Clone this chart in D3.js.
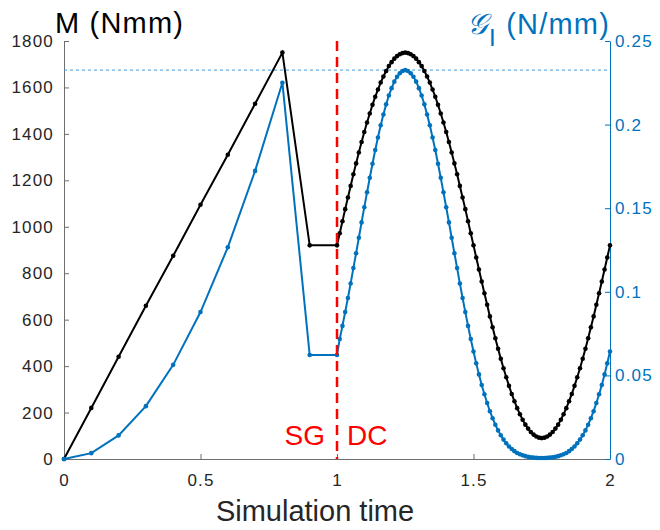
<!DOCTYPE html>
<html>
<head>
<meta charset="utf-8">
<script src="https://cdn.jsdelivr.net/npm/d3@7"></script>
<style>
  body { margin: 0; background: #fff; }
  text { font-family: "Liberation Sans", Arial, sans-serif; }
</style>
</head>
<body>
<div id="chart"></div>
<script>
// SG phase, coarse steps
var sgTime = [0, 0.1, 0.2, 0.3, 0.4, 0.5, 0.6, 0.7, 0.8, 0.9, 1.0];
var sgMoment = [0, 220, 440, 660, 875, 1095, 1310, 1530, 1750, 920, 920];
var sgG = [0, 0.0035, 0.0141, 0.0316, 0.0563, 0.0879, 0.1266, 0.1723, 0.225, 0.0622, 0.0622];

// DC phase, t = 1.01 ... 2.00
var dcMoment = [
  972, 1024, 1076, 1126, 1176, 1226, 1273, 1320, 1365, 1408,
  1449, 1488, 1525, 1560, 1591, 1621, 1647, 1671, 1692, 1709,
  1724, 1735, 1743, 1748, 1750, 1748, 1743, 1735, 1724, 1709,
  1692, 1671, 1647, 1621, 1591, 1560, 1525, 1488, 1449, 1408,
  1365, 1320, 1273, 1226, 1176, 1126, 1076, 1024, 972, 920,
  868, 816, 764, 714, 664, 614, 567, 520, 475, 432,
  391, 352, 315, 280, 249, 219, 193, 169, 148, 131,
  116, 105, 97, 92, 90, 92, 97, 105, 116, 131,
  148, 169, 193, 219, 249, 280, 315, 352, 391, 432,
  475, 520, 567, 614, 664, 714, 764, 816, 868, 920
];
var dcG = [
  0.0718, 0.0796, 0.0879, 0.0963, 0.1050, 0.1142, 0.1231, 0.1323, 0.1415, 0.1506,
  0.1595, 0.1682, 0.1766, 0.1848, 0.1923, 0.1996, 0.2060, 0.2121, 0.2174, 0.2218,
  0.2257, 0.2286, 0.2307, 0.2321, 0.2326, 0.2321, 0.2307, 0.2286, 0.2257, 0.2218,
  0.2174, 0.2121, 0.2060, 0.1996, 0.1923, 0.1848, 0.1766, 0.1682, 0.1595, 0.1506,
  0.1415, 0.1323, 0.1231, 0.1142, 0.1050, 0.0963, 0.0879, 0.0796, 0.0718, 0.0643,
  0.0572, 0.0506, 0.0443, 0.0387, 0.0335, 0.0286, 0.0244, 0.0205, 0.0171, 0.0142,
  0.0116, 0.0094, 0.0075, 0.0060, 0.0047, 0.0036, 0.0028, 0.0022, 0.0017, 0.0013,
  0.0010, 0.0008, 0.0007, 0.0006, 0.0006, 0.0006, 0.0007, 0.0008, 0.0010, 0.0013,
  0.0017, 0.0022, 0.0028, 0.0036, 0.0047, 0.0060, 0.0075, 0.0094, 0.0116, 0.0142,
  0.0171, 0.0205, 0.0244, 0.0286, 0.0335, 0.0387, 0.0443, 0.0506, 0.0572, 0.0643
];
var gCritical = 0.2326;
var switchTime = 1;

var xTicks = [0, 0.5, 1, 1.5, 2];
var mTicks = [0, 200, 400, 600, 800, 1000, 1200, 1400, 1600, 1800];
var gTicks = [0, 0.05, 0.1, 0.15, 0.2, 0.25];

var W = 660, H = 530;
var plotL = 64, plotR = 610, plotT = 41, plotB = 459;
var blue = '#0072BD', dark = '#262626';

// DC sampling grid (time axis only)
var dcTime = d3.range(1, 101).map(function (k) { return 1 + k / 100; });

var moment = sgTime.map(function (t, i) { return [t, sgMoment[i]]; })
  .concat(dcTime.map(function (t, i) { return [t, dcMoment[i]]; }));
var energy = sgTime.map(function (t, i) { return [t, sgG[i]]; })
  .concat(dcTime.map(function (t, i) { return [t, dcG[i]]; }));

var x = d3.scaleLinear().domain([0, 2]).range([plotL, plotR]);
var yM = d3.scaleLinear().domain([0, 1800]).range([plotB, plotT]);
var yG = d3.scaleLinear().domain([0, 0.25]).range([plotB, plotT]);

var svg = d3.select('#chart').append('svg')
  .attr('width', W)
  .attr('height', H);

// axes (MATLAB style, ticks pointing in)
var xAxis = svg.append('g')
  .attr('transform', 'translate(0,' + plotB + ')')
  .call(d3.axisBottom(x).tickValues(xTicks).tickFormat(function (d) { return String(d); })
    .tickSizeInner(-5).tickSizeOuter(0).tickPadding(15));

var mAxis = svg.append('g')
  .attr('transform', 'translate(' + plotL + ',0)')
  .call(d3.axisLeft(yM).tickValues(mTicks).tickFormat(function (d) { return String(d); })
    .tickSizeInner(-5).tickSizeOuter(0).tickPadding(10));

var gAxis = svg.append('g')
  .attr('transform', 'translate(' + plotR + ',0)')
  .call(d3.axisRight(yG).tickValues(gTicks).tickFormat(function (d) { return String(d); })
    .tickSizeInner(-5).tickSizeOuter(0).tickPadding(5));

[xAxis, mAxis, gAxis].forEach(function (a) {
  a.attr('font-size', null).attr('font-family', null)
    .style('font-size', '17px').style('letter-spacing', '1.2px');
});
[xAxis, mAxis].forEach(function (a) {
  a.select('.domain').attr('stroke', '#6e6e6e');
  a.selectAll('.tick line').attr('stroke', '#6e6e6e');
  a.selectAll('.tick text').attr('fill', dark);
});
gAxis.select('.domain').attr('stroke', blue);
gAxis.selectAll('.tick line').attr('stroke', blue);
gAxis.selectAll('.tick text').attr('fill', blue);

// critical energy release rate
svg.append('line')
  .attr('x1', x(0)).attr('x2', x(2))
  .attr('y1', yG(gCritical)).attr('y2', yG(gCritical))
  .attr('stroke', '#3d9be0')
  .attr('stroke-width', 1)
  .attr('stroke-dasharray', '3,3');

var lineM = d3.line().x(function (d) { return x(d[0]); }).y(function (d) { return yM(d[1]); });
var lineG = d3.line().x(function (d) { return x(d[0]); }).y(function (d) { return yG(d[1]); });

svg.append('path').datum(moment)
  .attr('d', lineM).attr('fill', 'none').attr('stroke', '#000').attr('stroke-width', 2);
svg.append('g').selectAll('circle').data(moment).enter().append('circle')
  .attr('cx', function (d) { return x(d[0]); })
  .attr('cy', function (d) { return yM(d[1]); })
  .attr('r', 2.3).attr('fill', '#000');

svg.append('path').datum(energy)
  .attr('d', lineG).attr('fill', 'none').attr('stroke', blue).attr('stroke-width', 2);
svg.append('g').selectAll('circle').data(energy).enter().append('circle')
  .attr('cx', function (d) { return x(d[0]); })
  .attr('cy', function (d) { return yG(d[1]); })
  .attr('r', 2.3).attr('fill', blue);

// SG / DC switch
svg.append('line')
  .attr('x1', x(switchTime)).attr('x2', x(switchTime))
  .attr('y1', plotT).attr('y2', plotB)
  .attr('stroke', '#ff0000')
  .attr('stroke-width', 2.5)
  .attr('stroke-dasharray', '10,6');

svg.append('text').text('SG')
  .attr('x', x(switchTime) - 12).attr('y', 445)
  .attr('text-anchor', 'end').attr('font-size', 28).attr('fill', '#ff0000');
svg.append('text').text('DC')
  .attr('x', x(switchTime) + 10).attr('y', 445)
  .attr('font-size', 28).attr('fill', '#ff0000');

// axis titles
svg.append('text').text('M (Nmm)')
  .attr('x', 55).attr('y', 33)
  .attr('font-size', 29).attr('letter-spacing', 1.2).attr('fill', '#000');

svg.append('text').text('Simulation time')
  .attr('x', 315).attr('y', 521)
  .attr('text-anchor', 'middle').attr('font-size', 29).attr('fill', dark);

var gTitle = svg.append('text')
  .attr('x', 610).attr('y', 34)
  .attr('text-anchor', 'end').attr('font-size', 29).attr('letter-spacing', 1.2).attr('fill', blue);
gTitle.append('tspan').text('\uD835\uDCA2')
  .attr('font-family', '"DejaVu Serif", serif').attr('font-style', 'italic');
gTitle.append('tspan').text('I').attr('font-size', 24).attr('dy', 12);
gTitle.append('tspan').text(' (N/mm)').attr('dy', -12);
</script>
</body>
</html>
